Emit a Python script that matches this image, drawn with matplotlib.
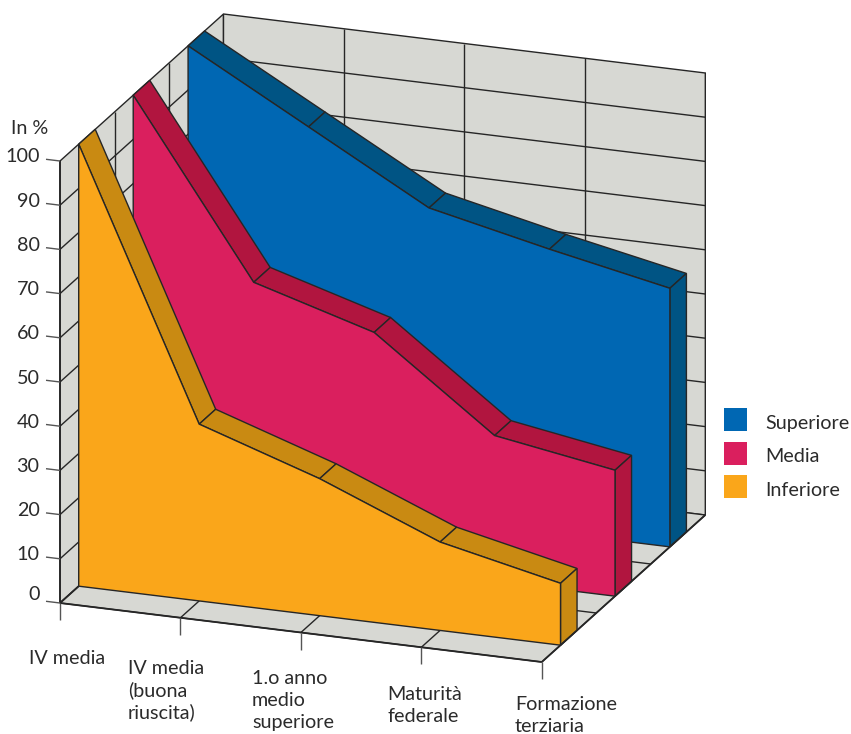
import matplotlib
matplotlib.use("Agg")
import matplotlib.pyplot as plt
from matplotlib.patches import Polygon, Rectangle

plt.rcParams["font.family"] = ["Lato", "DejaVu Sans"]

CATEGORIES = ["IV media", "IV media\n(buona\nriuscita)", "1.o anno\nmedio\nsuperiore",
              "Maturità\nfederale", "Formazione\nterziaria"]
Y_TICKS = [0, 10, 20, 30, 40, 50, 60, 70, 80, 90, 100]

SERIES = ["Superiore", "Media", "Inferiore"]
SUPERIORE = [100, 85, 70, 64, 58.5]
MEDIA = [100, 61, 53, 33, 28.5]
INFERIORE = [100, 40, 31, 20, 14]

# face colour, shaded colour for the top and end of each slab
COLORS = {"Superiore": ("#0067B3", "#005484"),
          "Media": ("#DA1F5E", "#B1153F"),
          "Inferiore": ("#FAA61A", "#C98A12")}
# slab position along the floor, 0 = front edge, 9 = back wall
DEPTH = {"Superiore": 7.05, "Media": 4.03, "Inferiore": 1.03}
VALUES = {"Superiore": SUPERIORE, "Media": MEDIA, "Inferiore": INFERIORE}
SLAB = 0.91

WALL = "#D7D8D3"
INK = "#262626"
TEXT = "#2b2b2b"
N_DEPTH = 9
LAST = len(CATEGORIES) - 1
FONT = 14.2


def proj(i, v, d):
    """Parallel projection of (category, value, depth) onto the page."""
    x = 60 + 120.45 * i + 163.5 / N_DEPTH * d
    y = 603 + 14.75 * i - 4.42 * v - 147.0 / N_DEPTH * d
    return x, y


fig = plt.figure(figsize=(8.51, 7.34), dpi=100)
ax = fig.add_axes([0, 0, 1, 1])
ax.set_xlim(0, 851)
ax.set_ylim(734, 0)
ax.axis("off")

# painter's order: every mark gets the next zorder
order = [1]


def next_z():
    order[0] += 1
    return order[0]


def face(pts, color):
    ax.add_patch(Polygon(pts, closed=True, facecolor=color, edgecolor=INK,
                         linewidth=1.0, joinstyle="miter", zorder=next_z()))


def line(a, b, color=INK, lw=1.0):
    ax.plot([a[0], b[0]], [a[1], b[1]], color=color, lw=lw, solid_capstyle="butt",
            zorder=next_z())


# walls and floor
face([proj(0, 0, 0), proj(0, 100, 0), proj(0, 100, N_DEPTH), proj(0, 0, N_DEPTH)], WALL)
face([proj(0, 0, N_DEPTH), proj(0, 100, N_DEPTH), proj(LAST, 100, N_DEPTH), proj(LAST, 0, N_DEPTH)], WALL)
face([proj(0, 0, 0), proj(LAST, 0, 0), proj(LAST, 0, N_DEPTH), proj(0, 0, N_DEPTH)], WALL)

# grid on walls
for v in Y_TICKS[1:-1]:
    line(proj(0, v, 0), proj(0, v, N_DEPTH))
    line(proj(0, v, N_DEPTH), proj(LAST, v, N_DEPTH))
for d in (3, 6):
    line(proj(0, 0, d), proj(0, 100, d))
    line(proj(0, 0, d), proj(LAST, 0, d))
for i in range(1, LAST):
    line(proj(i, 0, 0), proj(i, 0, N_DEPTH))
    line(proj(i, 0, N_DEPTH), proj(i, 100, N_DEPTH))

# slabs, back to front
for name in SERIES:
    vals = VALUES[name]
    d = DEPTH[name]
    front, shade = COLORS[name]
    for i in range(LAST):
        face([proj(i, vals[i], d), proj(i + 1, vals[i + 1], d),
              proj(i + 1, vals[i + 1], d + SLAB), proj(i, vals[i], d + SLAB)], shade)
    face([proj(LAST, 0, d), proj(LAST, vals[-1], d),
          proj(LAST, vals[-1], d + SLAB), proj(LAST, 0, d + SLAB)], shade)
    face([proj(0, 0, d)] + [proj(i, vals[i], d) for i in range(LAST + 1)] + [proj(LAST, 0, d)], front)

# outer frame on top of the fills
line(proj(0, 0, 0), proj(0, 100, 0), lw=1.3)
line(proj(0, 0, 0), proj(LAST, 0, 0), lw=1.3)
line(proj(LAST, 0, 0), proj(LAST, 0, N_DEPTH), lw=1.3)
line(proj(0, 0, 0), proj(0, 0, DEPTH["Inferiore"]), lw=1.3)

# value ticks and labels
for v in Y_TICKS:
    x0, y0 = proj(0, v, 0)
    line((x0 - 14, y0 - 1.7), (x0, y0), color="#555555")
    dy = 9 if v == 0 else 4
    ax.text(39.5, y0 - dy, str(v), ha="right", va="center", fontsize=FONT, color=TEXT)
ax.text(11, 128, "In %", ha="left", va="center", fontsize=FONT, color=TEXT)

# category ticks and labels
LABEL_X = [29, 128, 252, 387, 515]
LABEL_Y = [658, 669, 679, 695, 704.5]
for i, label in enumerate(CATEGORIES):
    x0, y0 = proj(i, 0, 0)
    line((x0, y0), (x0, y0 + 17), color="#555555")
    for k, row in enumerate(label.split("\n")):
        ax.text(LABEL_X[i], LABEL_Y[i] + 21.7 * k, row, ha="left", va="center",
                fontsize=FONT, color=TEXT)

# legend
for k, name in enumerate(SERIES):
    y = 408 + 33.5 * k
    ax.add_patch(Rectangle((724, y), 23, 23, facecolor=COLORS[name][0], edgecolor="none"))
    ax.text(765, y + 15, name, ha="left", va="center", fontsize=FONT, color=TEXT)

fig.savefig("out.png", dpi=100)
